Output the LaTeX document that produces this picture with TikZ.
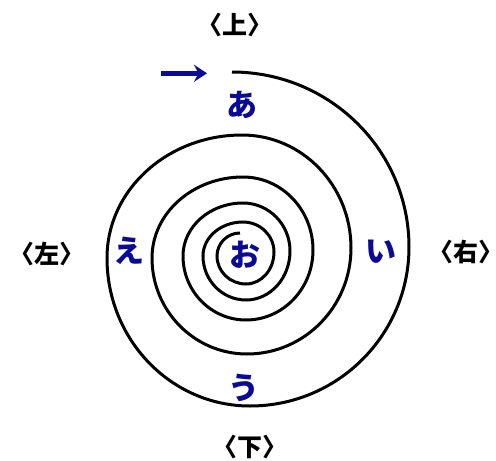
\documentclass[tikz,border=0pt]{standalone}
\usepackage{fontspec}
\newfontfamily\jp{Noto Sans CJK JP}
\newfontfamily\jpl[CharacterWidth=AlternateHalf]{Noto Sans CJK JP}
\usetikzlibrary{arrows.meta}
\definecolor{kblue}{RGB}{10,10,150}
\tikzset{
  spiral/.style={line width=3pt, black},
  dirlabel/.style={font=\jpl\bfseries\fontsize{25}{28}\selectfont, inner sep=0pt, text=black},
  kana/.style={font=\jp\bfseries\fontsize{31}{34}\selectfont, inner sep=0pt, text=kblue},
  arr/.style={line width=4.5pt, kblue, -{Stealth[length=13pt,width=17pt,inset=4.5pt]}}
}
\begin{document}
\begin{tikzpicture}[x=1pt,y=1pt]
\useasboundingbox (0,0) rectangle (496,-461);
\draw[spiral] (232,-72)
  arc[start angle=90,end angle=0,x radius=177,y radius=175]
  arc[start angle=0,end angle=-90,x radius=159,y radius=159]
  arc[start angle=-90,end angle=-180,x radius=143,y radius=148]
  arc[start angle=180,end angle=90,x radius=135,y radius=123]
  arc[start angle=90,end angle=0,x radius=109,y radius=113]
  arc[start angle=0,end angle=-90,x radius=104,y radius=106]
  arc[start angle=-90,end angle=-180,x radius=95,y radius=96]
  arc[start angle=180,end angle=90,x radius=91,y radius=81]
  arc[start angle=90,end angle=0,x radius=70,y radius=73]
  arc[start angle=0,end angle=-90,x radius=67,y radius=70]
  arc[start angle=-90,end angle=-180,x radius=63,y radius=64]
  arc[start angle=180,end angle=90,x radius=60,y radius=53]
  arc[start angle=90,end angle=0,x radius=47,y radius=48]
  arc[start angle=0,end angle=-90,x radius=44,y radius=49]
  arc[start angle=-90,end angle=-180,x radius=43,y radius=44]
  arc[start angle=180,end angle=90,x radius=40,y radius=34]
  arc[start angle=90,end angle=0,x radius=31,y radius=30]
  arc[start angle=0,end angle=-90,x radius=28,y radius=32]
  arc[start angle=-90,end angle=-180,x radius=29,y radius=28]
  arc[start angle=180,end angle=90,x radius=23,y radius=23];
\coordinate (a1) at (161,-73.3);
\coordinate (a2) at (207,-73.3);
\draw[arr] (a1) -- (a2);
\node[dirlabel] (up) at (234.5,-25) {〈上〉};
\node[dirlabel] (left) at (46.5,-253.5) {〈左〉};
\node[dirlabel] (right) at (466,-252) {〈右〉};
\node[dirlabel] (down) at (250,-446.5) {〈下〉};
\node[kana] (ka) at (242,-105) {あ};
\node[kana] (ki) at (381,-252) {い};
\node[kana] (ku) at (244,-388) {う};
\node[kana] (ke) at (129,-251) {え};
\node[kana] (ko) at (245,-255) {お};
\end{tikzpicture}
\end{document}
